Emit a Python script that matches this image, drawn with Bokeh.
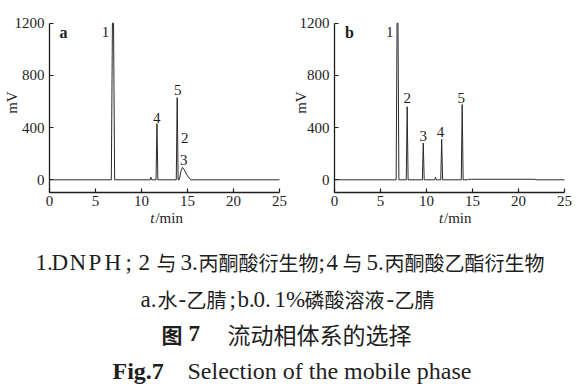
import math
from bokeh.plotting import figure
from bokeh.models import Range1d, FixedTicker, ColumnDataSource, LinearAxis
from bokeh.layouts import column, row
from bokeh.embed import file_html
from bokeh.resources import INLINE
from bokeh.core.properties import value

# ---- data ----
# a: water-acetonitrile
t_a = [0.0, 6.72, 6.84, 6.96, 7.08, 10.94, 11.02, 11.10, 11.58, 11.68, 11.78,
       13.78, 13.88, 13.98, 14.12, 14.30, 14.45, 14.62, 15.00, 15.35, 25.0]
mv_a = [0, 0, 1200, 1200, 0, 0, 20, 0, 0, 430, 0,
        0, 630, 0, 2, 70, 95, 80, 30, 0, 0]
lab_a = ["1", "4", "5", "2", "3"]
lab_a_t = [6.09, 11.66, 13.95, 14.71, 14.6]
lab_a_mv = [1133, 477, 688, 323, 154]

# b: 0.1% phosphoric acid - acetonitrile
t_b = [0.0, 6.70, 6.80, 6.90, 7.00, 7.80, 7.90, 8.00, 9.55, 9.65, 9.75,
       10.90, 10.98, 11.06, 11.55, 11.65, 11.75, 13.78, 13.88, 13.98,
       14.50, 14.60, 14.70, 14.90, 21.80, 21.90, 25.0]
mv_b = [0, 0, 1200, 1200, 0, 0, 560, 0, 0, 282, 0,
        0, 20, 0, 0, 310, 0, 0, 577, 0,
        0, 8, 0, 4, 4, 0, 0]
lab_b = ["1", "2", "3", "4", "5"]
lab_b_t = [6.01, 7.9, 9.64, 11.52, 13.77]
lab_b_mv = [1131, 623, 336, 367, 629]

x_ticks = [0, 5, 10, 15, 20, 25]
y_ticks = [0, 400, 800, 1200]
t_lim = (0, 25)
mv_lim = (-100, 1200)

SERIF = "Liberation Serif"
CJK = "Noto Sans CJK SC"
INK = "#1e1e1e"

# layout (pixels)
FIG_W, FIG_H = 292, 228
PX_PER_MIN = 230 / 25.0
PX_PER_MV = (179.3 - 22.7) / 1200.0
ZERO_Y = 179.3


def panel(t, mv, labs, lt, lmv, tag, tag_t, axis_px, mv_x, t_split):
    x0 = -axis_px / PX_PER_MIN
    x1 = (FIG_W - axis_px) / PX_PER_MIN
    y1 = ZERO_Y / PX_PER_MV
    y0 = (ZERO_Y - FIG_H) / PX_PER_MV
    p = figure(width=FIG_W, height=FIG_H, output_backend="svg", toolbar_location=None,
               x_range=Range1d(x0, x1), y_range=Range1d(y0, y1),
               x_axis_type=None, y_axis_type=None, min_border=0)
    p.outline_line_color = None
    p.grid.visible = False
    p.background_fill_color = "white"
    p.border_fill_color = "white"
    xa = LinearAxis(fixed_location=mv_lim[0], bounds=t_lim, ticker=FixedTicker(ticks=x_ticks))
    ya = LinearAxis(fixed_location=t_lim[0], bounds=mv_lim, ticker=FixedTicker(ticks=y_ticks))
    for ax in (xa, ya):
        ax.axis_line_color = INK
        ax.axis_line_width = 1.3
        ax.major_tick_line_color = INK
        ax.major_tick_line_width = 1.2
        ax.major_tick_in = 4
        ax.major_tick_out = 0
        ax.minor_tick_line_color = None
        ax.major_label_text_font = SERIF
        ax.major_label_text_font_size = "15px"
        ax.major_label_text_color = INK
    xa.major_label_standoff = 3
    ya.major_label_standoff = 5
    p.add_layout(xa, "below")
    p.add_layout(ya, "left")
    p.line(t, mv, line_color="#2a2a2a", line_width=1)
    src = ColumnDataSource(dict(x=lt, y=lmv, text=labs))
    p.text(x="x", y="y", text="text", source=src, text_font=value(SERIF),
           text_font_size="15px", text_align="center", text_baseline="middle",
           text_color=INK)
    p.text(x=[tag_t], y=[1128], text=[tag], text_font=value(SERIF), text_font_size="16px",
           text_font_style="bold", text_align="center", text_baseline="middle",
           text_color=INK)
    p.text(x=[mv_x], y=[592], text=["mV"], text_font=value(SERIF), text_font_size="15px",
           angle=math.pi / 2, text_align="center", text_baseline="middle", text_color=INK)
    p.text(x=[t_split], y=[-296], text=["t"], text_font=value(SERIF), text_font_size="15px",
           text_font_style="italic", text_align="right", text_baseline="middle",
           text_color=INK)
    p.text(x=[t_split + 0.1], y=[-296], text=["/min"], text_font=value(SERIF),
           text_font_size="15px", text_align="left", text_baseline="middle", text_color=INK)
    return p


pa = panel(t_a, mv_a, lab_a, lab_a_t, lab_a_mv, "a", 1.52, 49, -4.13, 11.41)
pb = panel(t_b, mv_b, lab_b, lab_b_t, lab_b_mv, "b", 1.63, 334 - FIG_W, -3.59, 11.8)

# ---- caption ----
cap = [
    # line 1
    ("1.", 35, 262, SERIF, "23px", "normal"),
    ("D", 51, 262, SERIF, "23px", "normal"),
    ("N", 69, 262, SERIF, "23px", "normal"),
    ("P", 88, 262, SERIF, "23px", "normal"),
    ("H", 104, 262, SERIF, "23px", "normal"),
    (";", 125, 262, SERIF, "23px", "normal"),
    ("2", 138, 262, SERIF, "23px", "normal"),
    ("与", 156, 262, CJK, "20px", "normal"),
    ("3.", 180, 262, SERIF, "23px", "normal"),
    ("丙酮酸衍生物", 198, 262, CJK, "20px", "normal"),
    (";", 318, 262, SERIF, "23px", "normal"),
    ("4", 326, 262, SERIF, "23px", "normal"),
    ("与", 342, 262, CJK, "20px", "normal"),
    ("5.", 366, 262, SERIF, "23px", "normal"),
    ("丙酮酸乙酯衍生物", 384, 262, CJK, "20px", "normal"),
    # line 2
    ("a.", 140, 299, SERIF, "23px", "normal"),
    ("水", 157, 299, CJK, "20px", "normal"),
    ("-", 178, 299, SERIF, "23px", "normal"),
    ("乙腈", 186, 299, CJK, "20px", "normal"),
    (";", 229, 299, SERIF, "23px", "normal"),
    ("b.", 237, 299, SERIF, "23px", "normal"),
    ("0.", 253, 299, SERIF, "23px", "normal"),
    ("1%", 274, 299, SERIF, "23px", "normal"),
    ("磷酸溶液", 304, 299, CJK, "20px", "normal"),
    ("-", 386, 299, SERIF, "23px", "normal"),
    ("乙腈", 394, 299, CJK, "20px", "normal"),
    # line 3
    ("图", 161, 333, CJK, "21px", "bold"),
    ("7", 188, 333, SERIF, "23px", "bold"),
    ("流动相体系的选择", 227, 333, CJK, "23px", "normal"),
    # line 4
    ("Fig.7", 112, 370, SERIF, "24px", "bold"),
    ("Selection of the mobile phase", 187, 370, SERIF, "24px", "normal"),
]
csrc = ColumnDataSource(dict(
    text=[c[0] for c in cap], x=[c[1] for c in cap], y=[c[2] for c in cap],
    font=[c[3] for c in cap], size=[c[4] for c in cap], style=[c[5] for c in cap]))

CAP_TOP, CAP_BOTTOM = FIG_H, 386
pc = figure(width=2 * FIG_W, height=CAP_BOTTOM - CAP_TOP, output_backend="svg",
            toolbar_location=None, x_range=Range1d(0, 2 * FIG_W),
            y_range=Range1d(CAP_BOTTOM, CAP_TOP),
            x_axis_type=None, y_axis_type=None, min_border=0)
pc.outline_line_color = None
pc.grid.visible = False
pc.text(x="x", y="y", text="text", source=csrc, text_font="font", text_font_size="size",
        text_font_style="style", text_align="left", text_baseline="middle", text_color=INK)

layout = column(row(pa, pb, spacing=0), pc, spacing=0)
open("out.html", "w").write(file_html(layout, INLINE))
